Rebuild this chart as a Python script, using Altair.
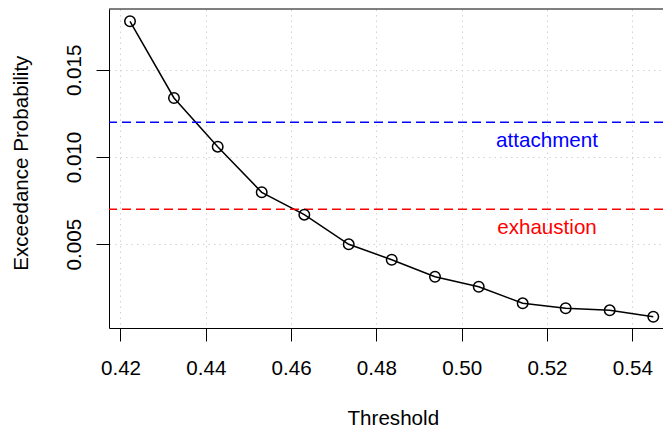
import altair as alt
import pandas as pd

# ---- data ----
threshold = [0.42223, 0.43254, 0.44279, 0.45311, 0.46310, 0.47351, 0.48359,
             0.49374, 0.50399, 0.51430, 0.52438, 0.53470, 0.54492]
exceed_prob = [0.017786, 0.013385, 0.010591, 0.007975, 0.006690, 0.004991, 0.004108,
               0.003133, 0.002559, 0.001606, 0.001320, 0.001205, 0.000838]
ref_levels = [0.012, 0.007]
ref_labels = ["attachment", "exhaustion"]
ref_colors = ["#0000FF", "#FF0000"]
label_y = [0.011, 0.006]
label_x = [0.52, 0.52]
x_ticks = [0.42, 0.44, 0.46, 0.48, 0.50, 0.52, 0.54]
y_ticks = [0.005, 0.010, 0.015]

df = pd.DataFrame({"Threshold": threshold, "Prob": exceed_prob})
ref = pd.DataFrame({"level": ref_levels, "label": ref_labels, "color": ref_colors,
                    "ly": label_y, "lx": label_x})

W, H = 554, 319
FONT = "Liberation Sans"
FS = 20.6
xs = alt.Scale(domain=[0.417304, 0.547198], nice=False, zero=False)
ys = alt.Scale(domain=[0.00019, 0.01849], nice=False, zero=False)

x_axis = alt.Axis(values=x_ticks, format=".2f", title="Threshold",
                  grid=True, gridColor="#d3d3d3", gridDash=[1.5, 4], gridWidth=1,
                  domainColor="black", domainWidth=1, tickColor="black", tickSize=13,
                  tickWidth=1, labelFont=FONT, labelFontSize=FS, labelColor="black",
                  labelBaseline="alphabetic", labelPadding=33, labelFlush=False,
                  labelOverlap=False,
                  titleFont=FONT, titleFontSize=FS, titleFontWeight="normal",
                  titleColor="black", titleX=283.8, titleY=96.6, titleAlign="center",
                  titleBaseline="alphabetic")
y_axis = alt.Axis(values=y_ticks, format=".3f", title="Exceedance Probability",
                  grid=True, gridColor="#d3d3d3", gridDash=[1.5, 4], gridWidth=1,
                  domainColor="black", domainWidth=1, tickColor="black", tickSize=13,
                  tickWidth=1, labelFont=FONT, labelFontSize=FS, labelColor="black",
                  labelAngle=270, labelAlign="center", labelBaseline="alphabetic",
                  labelPadding=15.5, labelFlush=False, labelOverlap=False,
                  titleFont=FONT, titleFontSize=FS, titleFontWeight="normal",
                  titleColor="black", titleAngle=270, titleX=-81.4, titleY=153.7,
                  titleAlign="center", titleBaseline="alphabetic")

base = alt.Chart(df)
line = base.mark_line(color="black", strokeWidth=1.5).encode(
    x=alt.X("Threshold:Q", scale=xs, axis=x_axis),
    y=alt.Y("Prob:Q", scale=ys, axis=y_axis),
)
points = base.mark_point(shape="circle", filled=False, size=110, color="black",
                         strokeWidth=1.5, opacity=1).encode(
    x=alt.X("Threshold:Q", scale=xs, axis=x_axis),
    y=alt.Y("Prob:Q", scale=ys, axis=y_axis),
)
rules = alt.Chart(ref).mark_rule(strokeDash=[9, 5], strokeWidth=1.5).encode(
    y=alt.Y("level:Q", scale=ys, axis=y_axis),
    color=alt.Color("color:N", scale=None),
)
texts = alt.Chart(ref).mark_text(font=FONT, fontSize=FS, align="center",
                                 baseline="alphabetic", dy=7.5).encode(
    x=alt.X("lx:Q", scale=xs, axis=x_axis),
    y=alt.Y("ly:Q", scale=ys, axis=y_axis),
    text="label:N",
    color=alt.Color("color:N", scale=None),
)
top_border = alt.Chart(pd.DataFrame({"a": [0]})).mark_rule(
    color="black", strokeWidth=1).encode(
    x=alt.value(0), x2=alt.value(W), y=alt.value(0))

chart = alt.layer(line, rules, texts, points, top_border).properties(
    width=W, height=H,
    autosize=alt.AutoSizeParams(type="none"),
    padding={"left": 109, "top": 9, "right": 0, "bottom": 101},
    background="white",
).configure_view(stroke=None)

chart.save("out.html", embed_options={"renderer": "svg", "actions": False})
